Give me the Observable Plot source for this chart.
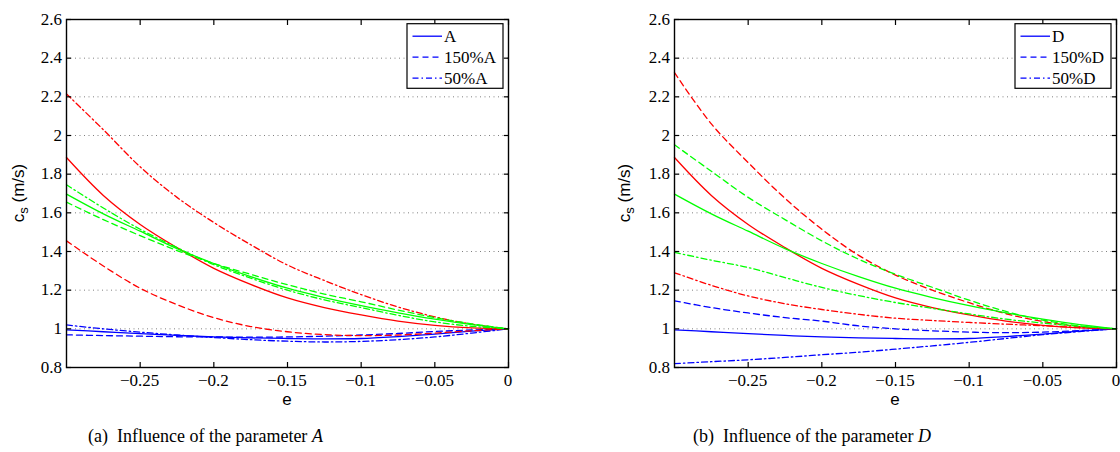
<!DOCTYPE html>
<html>
<head>
<meta charset="utf-8">
<script src="https://cdn.jsdelivr.net/npm/d3@7"></script>
<script src="https://cdn.jsdelivr.net/npm/@observablehq/plot@0.6"></script>
<style>
  html, body { margin: 0; padding: 0; background: #fff; }
  #wrap { position: relative; width: 1120px; height: 452px; overflow: hidden; }
  .panel { position: absolute; top: 0; }
  .cap { position: absolute; top: 426px; font-family: "Liberation Serif", serif; font-size: 18px; color: #000; white-space: nowrap; }
</style>
</head>
<body>
<div id="wrap">
  <div id="pa" class="panel" style="left:0px"></div>
  <div id="pb" class="panel" style="left:560px"></div>
  <div class="cap" style="left:88px">(a)&nbsp; Influence of the parameter <i>A</i></div>
  <div class="cap" style="left:693px">(b)&nbsp; Influence of the parameter <i>D</i></div>
</div>
<script>
// ---------- data ----------
const e = [-0.3, -0.275, -0.25, -0.225, -0.2, -0.175, -0.15, -0.125, -0.1, -0.075, -0.05, -0.025, 0];

// baseline curves (same in both panels)
const redBase   = [1.886, 1.69, 1.54, 1.42, 1.313, 1.23, 1.16, 1.11, 1.072, 1.04, 1.018, 1.005, 1.0];
const greenBase = [1.697, 1.595, 1.505, 1.415, 1.338, 1.27, 1.21, 1.162, 1.12, 1.083, 1.05, 1.022, 1.0];
const blueBase  = [0.995, 0.985, 0.975, 0.966, 0.958, 0.953, 0.95, 0.948, 0.95, 0.96, 0.973, 0.988, 1.0];

// panel (a): parameter A
const redA150   = [1.455, 1.325, 1.21, 1.125, 1.058, 1.012, 0.985, 0.97, 0.965, 0.968, 0.978, 0.99, 1.0];
const redA50    = [2.215, 2.03, 1.838, 1.68, 1.55, 1.435, 1.33, 1.25, 1.177, 1.113, 1.062, 1.024, 1.0];
const greenA150 = [1.655, 1.565, 1.482, 1.405, 1.338, 1.282, 1.228, 1.18, 1.14, 1.097, 1.058, 1.026, 1.0];
const greenA50  = [1.745, 1.625, 1.515, 1.42, 1.332, 1.262, 1.2, 1.15, 1.11, 1.07, 1.036, 1.013, 1.0];
const blueA150  = [0.969, 0.965, 0.962, 0.959, 0.958, 0.957, 0.958, 0.962, 0.968, 0.976, 0.986, 0.994, 1.0];
const blueA50   = [1.02, 1.0, 0.983, 0.968, 0.955, 0.944, 0.936, 0.932, 0.935, 0.944, 0.958, 0.978, 1.0];

// panel (b): parameter D
const redD150   = [2.325, 2.06, 1.86, 1.675, 1.515, 1.38, 1.278, 1.2, 1.135, 1.078, 1.038, 1.011, 1.0];
const redD50    = [1.29, 1.225, 1.17, 1.13, 1.1, 1.075, 1.055, 1.043, 1.033, 1.024, 1.016, 1.007, 1.0];
const greenD150 = [1.952, 1.815, 1.68, 1.565, 1.455, 1.36, 1.282, 1.215, 1.148, 1.09, 1.045, 1.015, 1.0];
const greenD50  = [1.395, 1.355, 1.317, 1.265, 1.214, 1.172, 1.136, 1.106, 1.077, 1.05, 1.03, 1.013, 1.0];
const blueD150  = [1.145, 1.11, 1.082, 1.058, 1.04, 1.015, 1.0, 0.99, 0.983, 0.98, 0.983, 0.991, 1.0];
const blueD50   = [0.82, 0.83, 0.84, 0.852, 0.866, 0.879, 0.895, 0.912, 0.93, 0.95, 0.97, 0.986, 1.0];

const xTicks = [-0.25, -0.2, -0.15, -0.1, -0.05, 0];
const yTicks = [0.8, 1.0, 1.2, 1.4, 1.6, 1.8, 2.0, 2.2, 2.4, 2.6];
const yGrid  = [1.0, 1.2, 1.4, 1.6, 1.8, 2.0, 2.2, 2.4];
const legendA = ["A", "150%A", "50%A"];
const legendD = ["D", "150%D", "50%D"];

// ---------- styling ----------
const SERIF = "font-family:'Liberation Serif','Times New Roman',serif;font-size:17px;fill:#000;";
const SANS = "font-family:'Liberation Sans',Arial,sans-serif;font-size:17px;fill:#000;";
const COL = {red: "#ff0000", green: "#00ff00", blue: "#0000ff"};
const DASH = {solid: null, dashed: "6,4", dashdot: "6,3,1.5,3"};

function rows(vals) { return e.map((x, i) => ({e: x, v: vals[i]})); }
const fmtX = d => d === 0 ? "0" : "\u2212" + String(Math.abs(d));
const fmtY = d => String(+d.toFixed(1));

function panel(series, opts) {
  const lines = series.map(s => Plot.line(rows(s.vals), {
    x: "e", y: "v", stroke: COL[s.color], strokeWidth: 1.3,
    strokeDasharray: DASH[s.style], curve: "catmull-rom"
  }));
  const noLab = () => "";
  const svg = Plot.plot({
    width: 560, height: 412,
    marginLeft: opts.ml, marginRight: opts.mr, marginTop: 19, marginBottom: 45,
    x: {domain: [-0.3, 0]},
    y: {domain: [0.8, 2.6]},
    marks: [
      Plot.gridY(yGrid, {stroke: "#808080", strokeOpacity: 1, strokeWidth: 1, strokeDasharray: "1,3.5"}),
      ...lines,
      Plot.frame({stroke: "#000", strokeWidth: 1.4}),
      Plot.axisX(xTicks, {anchor: "bottom", tickSize: -5, tickFormat: noLab, label: null, strokeWidth: 1.2}),
      Plot.axisX(xTicks, {anchor: "top", tickSize: -5, tickFormat: noLab, label: null, strokeWidth: 1.2}),
      Plot.axisY(yTicks, {anchor: "left", tickSize: -5, tickFormat: noLab, label: null, strokeWidth: 1.2}),
      Plot.axisY(yTicks, {anchor: "right", tickSize: -5, tickFormat: noLab, label: null, strokeWidth: 1.2})
    ]
  });
  svg.style.background = "#fff";
  const s = d3.select(svg);
  const sx = svg.scale("x"), sy = svg.scale("y");
  // tick labels, placed through the plot's own scales
  const gt = s.append("g");
  xTicks.forEach(t => {
    gt.append("text").attr("x", sx.apply(t)).attr("y", 386).attr("text-anchor", "middle")
      .attr("style", SERIF).text(fmtX(t));
  });
  yTicks.forEach(t => {
    gt.append("text").attr("x", opts.ml - 4).attr("y", sy.apply(t) + 5.8).attr("text-anchor", "end")
      .attr("style", SERIF).text(fmtY(t));
  });
  // y label  c_s (m/s)
  const yl = s.append("text")
    .attr("transform", `translate(${opts.ylx},193) rotate(-90)`)
    .attr("text-anchor", "middle").attr("style", SANS);
  yl.append("tspan").text("c");
  yl.append("tspan").attr("dy", 4).attr("style", "font-size:13px").text("s");
  yl.append("tspan").attr("dy", -4).text(" (m/s)");
  // x label e
  s.append("text").attr("x", opts.xlx).attr("y", 405).attr("text-anchor", "middle")
    .attr("style", SANS).text("e");
  // legend
  const lx = opts.legX, ly = 23.7, lw = 96, lh = 64.6;
  const g = s.append("g");
  g.append("rect").attr("x", lx).attr("y", ly).attr("width", lw).attr("height", lh)
    .attr("fill", "#fff").attr("stroke", "#000").attr("stroke-width", 1.2);
  const styles = ["solid", "dashed", "dashdot"];
  opts.legend.forEach((t, i) => {
    const yy = ly + 12.5 + i * 21;
    g.append("line").attr("x1", lx + 5.5).attr("x2", lx + 35).attr("y1", yy).attr("y2", yy)
      .attr("stroke", COL.blue).attr("stroke-width", 1.3)
      .attr("stroke-dasharray", DASH[styles[i]]);
    g.append("text").attr("x", lx + 37).attr("y", yy + 6)
      .attr("text-anchor", "start").attr("style", SERIF).text(t);
  });
  return svg;
}

const seriesA = [
  {vals: blueBase, color: "blue", style: "solid"},
  {vals: blueA150, color: "blue", style: "dashed"},
  {vals: blueA50, color: "blue", style: "dashdot"},
  {vals: redBase, color: "red", style: "solid"},
  {vals: redA150, color: "red", style: "dashed"},
  {vals: redA50, color: "red", style: "dashdot"},
  {vals: greenBase, color: "green", style: "solid"},
  {vals: greenA150, color: "green", style: "dashed"},
  {vals: greenA50, color: "green", style: "dashdot"}
];
const seriesD = [
  {vals: blueBase, color: "blue", style: "solid"},
  {vals: blueD150, color: "blue", style: "dashed"},
  {vals: blueD50, color: "blue", style: "dashdot"},
  {vals: redBase, color: "red", style: "solid"},
  {vals: redD150, color: "red", style: "dashed"},
  {vals: redD50, color: "red", style: "dashdot"},
  {vals: greenBase, color: "green", style: "solid"},
  {vals: greenD150, color: "green", style: "dashed"},
  {vals: greenD50, color: "green", style: "dashdot"}
];

document.getElementById("pa").appendChild(panel(seriesA, {ml: 66, mr: 52, ylx: 24, xlx: 287, legX: 407, legend: legendA}));
document.getElementById("pb").appendChild(panel(seriesD, {ml: 114, mr: 4, ylx: 70, xlx: 335, legX: 455, legend: legendD}));
</script>
</body>
</html>
